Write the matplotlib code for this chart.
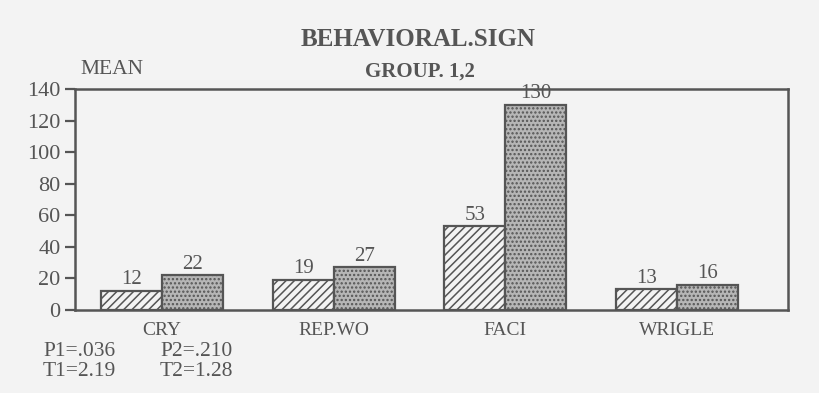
import matplotlib
matplotlib.use("Agg")
import matplotlib.pyplot as plt
import numpy as np

categories = ["CRY", "REP.WO", "FACI", "WRIGLE"]
group1 = [12, 19, 53, 13]
group2 = [22, 27, 130, 16]
yticks = [0, 20, 40, 60, 80, 100, 120, 140]
stats_text = [("P1=.036", "P2=.210"), ("T1=2.19", "T2=1.28")]

plt.rcParams['font.family'] = ['Liberation Serif', 'DejaVu Serif']
plt.rcParams['hatch.linewidth'] = 1.1
ink = '#555555'
plt.rcParams['hatch.color'] = ink

fig = plt.figure(figsize=(8.19, 3.93), dpi=100, facecolor='#f3f3f3')
ax = fig.add_axes([0.0916, 0.2112, 0.8706, 0.5623])
ax.set_facecolor('#f3f3f3')

x = np.arange(len(categories))
w = 0.355
b1 = ax.bar(x - w / 2, group1, w, facecolor='#f3f3f3', edgecolor=ink, hatch='////', linewidth=1.6)
b2 = ax.bar(x + w / 2, group2, w, facecolor='#b6b6b6', edgecolor=ink, hatch='....', linewidth=1.6)

for rect, v in zip(list(b1) + list(b2), group1 + group2):
    ax.text(rect.get_x() + rect.get_width() / 2, v + 1.0, str(v), ha='center', va='bottom',
            fontsize=15, color=ink)

ax.set_xlim(-0.507, 3.646)
ax.set_ylim(0, 140)
ax.set_yticks(yticks)
ax.set_yticklabels([str(t) for t in yticks], fontsize=16, color=ink)
ax.tick_params(axis='y', direction='out', length=7.5, width=1.6, color=ink, pad=3)
ax.set_xticks(x)
ax.set_xticklabels(categories, fontsize=14, color=ink)
ax.tick_params(axis='x', length=0, pad=9)
for s in ax.spines.values():
    s.set_color(ink)
    s.set_linewidth(1.8)

fig.text(0.511, 1 - 40 / 393, "BEHAVIORAL.SIGN", ha='center', va='center', fontsize=18,
         fontweight='bold', color=ink)
fig.text(419.5 / 819, 1 - 72 / 393, "GROUP. 1,2", ha='center', va='center', fontsize=15,
         fontweight='bold', color=ink)
fig.text(80 / 819, 1 - 69 / 393, "MEAN", ha='left', va='center', fontsize=15.5, color=ink)

for i, (a, b) in enumerate(stats_text):
    yy = 1 - (351 + i * 20) / 393
    fig.text(43 / 819, yy, a, ha='left', va='center', fontsize=15.5, color=ink)
    fig.text(160 / 819, yy, b, ha='left', va='center', fontsize=15.5, color=ink)

fig.savefig("out.png", dpi=100, facecolor=fig.get_facecolor())
